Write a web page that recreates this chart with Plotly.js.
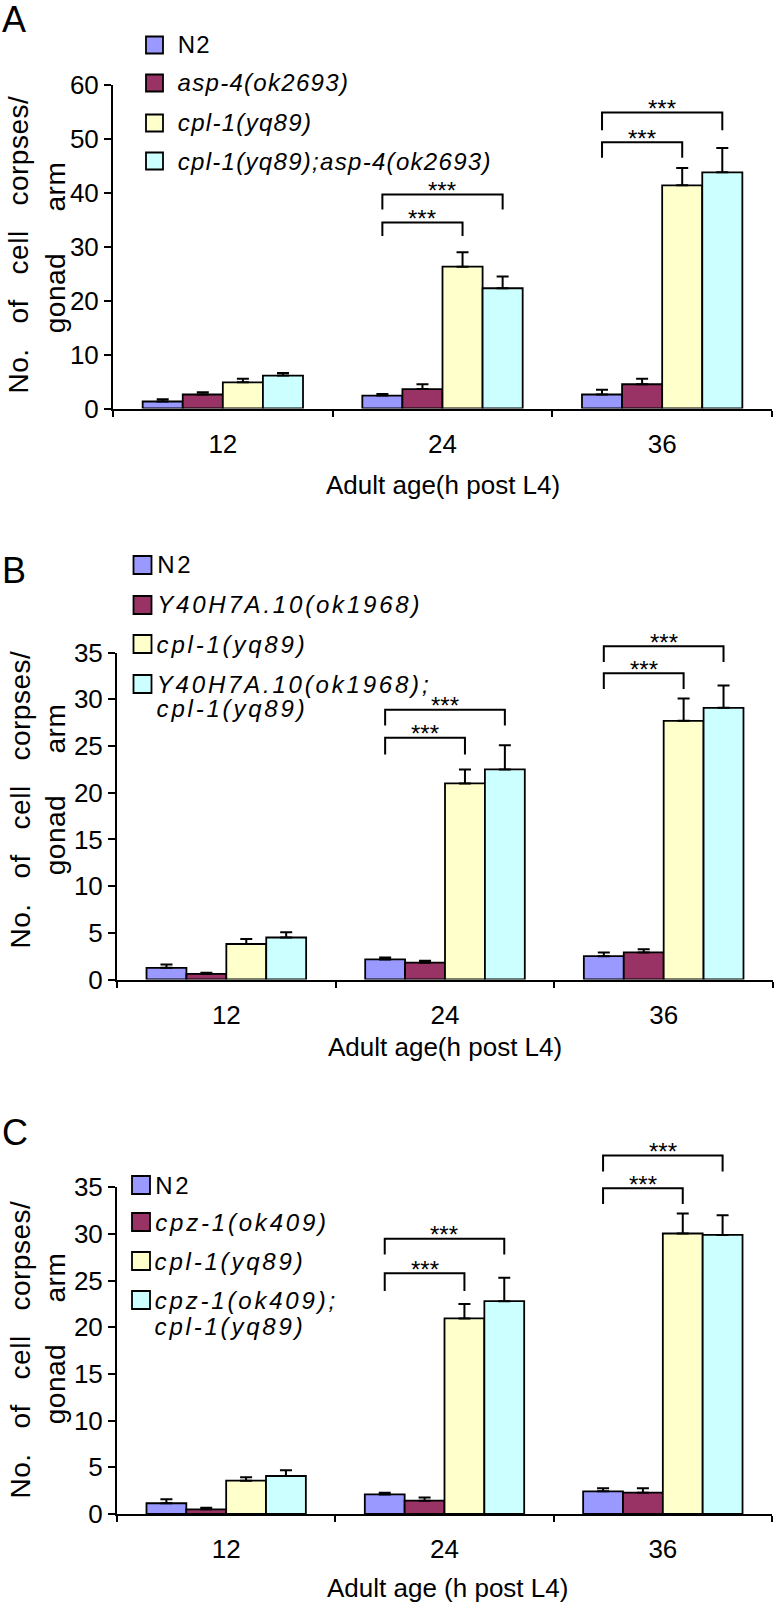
<!DOCTYPE html>
<html><head><meta charset="utf-8">
<script src="https://cdn.plot.ly/plotly-3.0.1.min.js"></script>
<style>html,body{margin:0;padding:0;background:#fff}</style>
</head><body>
<div id="chart" style="width:775px;height:1604px"></div>
<script>
// ---------------- DATA ----------------
const categories = ['12', '24', '36'];
const seriesColors = ['#9999FF', '#993366', '#FFFFCC', '#CCFFFF'];

// Panel A
const labelsA = [['N2'], ['asp-4(ok2693)'], ['cpl-1(yq89)'], ['cpl-1(yq89);asp-4(ok2693)']];
const a_N2 = [1.3, 2.4, 2.6];
const a_N2_err = [0.4, 0.3, 0.9];
const a_asp4 = [2.6, 3.6, 4.5];
const a_asp4_err = [0.4, 0.9, 1.0];
const a_cpl1 = [4.85, 26.3, 41.4];
const a_cpl1_err = [0.65, 2.7, 3.2];
const a_double = [6.1, 22.3, 43.8];
const a_double_err = [0.5, 2.2, 4.5];
// significance brackets: [category index, compared series, bracket level, leg end]
const sigA = [[1, 3, 39.7, 36.9], [1, 2, 34.5, 32.0], [2, 3, 54.9, 51.6], [2, 2, 49.4, 46.5]];

// Panel B
const labelsB = [['N2'], ['Y40H7A.10(ok1968)'], ['cpl-1(yq89)'], ['Y40H7A.10(ok1968);', 'cpl-1(yq89)']];
const b_N2 = [1.25, 2.15, 2.5];
const b_N2_err = [0.35, 0.2, 0.4];
const b_Y40 = [0.6, 1.8, 2.9];
const b_Y40_err = [0.13, 0.2, 0.35];
const b_cpl1 = [3.8, 21.0, 27.7];
const b_cpl1_err = [0.55, 1.5, 2.4];
const b_double = [4.5, 22.5, 29.1];
const b_double_err = [0.55, 2.6, 2.4];
const sigB = [[1, 3, 28.9, 27.2], [1, 2, 25.9, 24.1], [2, 3, 35.7, 34.0], [2, 2, 32.8, 31.1]];

// Panel C
const labelsC = [['N2'], ['cpz-1(ok409)'], ['cpl-1(yq89)'], ['cpz-1(ok409);', 'cpl-1(yq89)']];
const c_N2 = [1.15, 2.1, 2.43];
const c_N2_err = [0.42, 0.18, 0.32];
const c_cpz1 = [0.5, 1.43, 2.28];
const c_cpz1_err = [0.17, 0.35, 0.47];
const c_cpl1 = [3.57, 20.95, 30.05];
const c_cpl1_err = [0.36, 1.55, 2.15];
const c_double = [4.07, 22.8, 29.9];
const c_double_err = [0.63, 2.5, 2.1];
const sigC = [[1, 3, 29.5, 27.8], [1, 2, 25.8, 23.9], [2, 3, 38.4, 36.7], [2, 2, 34.9, 33.2]];

const NB = '\u00A0';
const yTitle1 = ['No.', 'of', 'cell', 'corpses/'].join(NB.repeat(3));
const yTitle2 = ['gonad', 'arm'].join(NB.repeat(5));

// ---------------- LAYOUT HELPERS ----------------
const W = 775, H = 1604;
const px = v => v / W;
const py = v => 1 - v / H;
const FONT = 'Liberation Sans, Arial, Helvetica, sans-serif';

const panels = [
  { values: [a_N2, a_asp4, a_cpl1, a_double], errs: [a_N2_err, a_asp4_err, a_cpl1_err, a_double_err],
    labels: labelsA, sig: sigA, ymax: 60, dtick: 10, xPix: [113, 772], yPix: [408.5, 85],
    legend: { sx: 146, size: 17, tx: 177, ys: [45, 83, 123, 161], line2y: null, ls: 1.3 },
    letter: { t: 'A', x: 14, y: 19 }, xtitle: { t: 'Adult age(h post L4)', x: 443, y: 485 },
    yt: { x1: 19, y1: 245, x2: 55, y2: 248 } },
  { values: [b_N2, b_Y40, b_cpl1, b_double], errs: [b_N2_err, b_Y40_err, b_cpl1_err, b_double_err],
    labels: labelsB, sig: sigB, ymax: 35, dtick: 5, xPix: [117, 773], yPix: [979.5, 652.7],
    legend: { sx: 133.5, size: 18, tx: 156, ys: [565, 605, 644, 684], line2y: 709, ls: 2.8 },
    letter: { t: 'B', x: 14, y: 570 }, xtitle: { t: 'Adult age(h post L4)', x: 445, y: 1047 },
    yt: { x1: 20, y1: 800, x2: 55, y2: 790 } },
  { values: [c_N2, c_cpz1, c_cpl1, c_double], errs: [c_N2_err, c_cpz1_err, c_cpl1_err, c_double_err],
    labels: labelsC, sig: sigC, ymax: 35, dtick: 5, xPix: [117, 772], yPix: [1514, 1187.3],
    legend: { sx: 132, size: 18, tx: 154, ys: [1185, 1222, 1261, 1300], line2y: 1326, ls: 2.8 },
    letter: { t: 'C', x: 15, y: 1132 }, xtitle: { t: 'Adult age (h post L4)', x: 447, y: 1588 },
    yt: { x1: 20, y1: 1350, x2: 55, y2: 1339 } }
];

const BARGAP = 0.27, NSER = 4;
const bw = (1 - BARGAP) / NSER;
const offset = k => (k - (NSER - 1) / 2) * bw;

const data = [], shapes = [], annotations = [], lsMap = {};
const layout = {
  width: W, height: H, autosize: false,
  margin: { l: 0, r: 0, t: 0, b: 0, pad: 0 },
  paper_bgcolor: '#fff', plot_bgcolor: 'rgba(0,0,0,0)',
  barmode: 'group', bargap: BARGAP, bargroupgap: 0,
  showlegend: false, font: { family: FONT, color: '#000' }
};

function ann(o) { annotations.push(Object.assign({ xref: 'paper', yref: 'paper', showarrow: false, borderpad: 0 }, o)); return annotations.length - 1; }

panels.forEach((p, pi) => {
  const suf = pi === 0 ? '' : String(pi + 1);
  const xa = 'x' + suf, ya = 'y' + suf;
  p.values.forEach((vals, k) => {
    data.push({
      type: 'bar', x: categories, y: vals, xaxis: xa, yaxis: ya,
      name: p.labels[k].join(' '),
      marker: { color: seriesColors[k], line: { color: '#000', width: 1.8 } },
      error_y: { type: 'data', array: p.errs[k], arrayminus: vals.map(() => 0), symmetric: false,
                 color: '#000', thickness: 2, width: 6 },
      hoverinfo: 'skip', cliponaxis: false
    });
  });
  layout['xaxis' + suf] = {
    domain: [px(p.xPix[0]), px(p.xPix[1])], anchor: ya, type: 'category', range: [-0.5, 2.5],
    tickson: 'boundaries', ticks: 'outside', ticklen: 6, tickwidth: 2, tickcolor: '#000',
    showline: true, linecolor: '#000', linewidth: 2, showgrid: false, zeroline: false,
    tickfont: { family: FONT, size: 26, color: '#000' }, ticklabelstandoff: 11, fixedrange: true
  };
  layout['yaxis' + suf] = {
    domain: [py(p.yPix[0]), py(p.yPix[1])], anchor: xa, range: [0, p.ymax], tick0: 0, dtick: p.dtick,
    ticks: 'outside', ticklen: 7, tickwidth: 2, tickcolor: '#000',
    showline: true, linecolor: '#000', linewidth: 2, showgrid: false, zeroline: false,
    tickfont: { family: FONT, size: 26, color: '#000' }, fixedrange: true
  };

  const xPixOf = (cat, k) => p.xPix[0] + (cat + offset(k) + 0.5) / 3 * (p.xPix[1] - p.xPix[0]);
  const yPixOf = v => p.yPix[0] - v / p.ymax * (p.yPix[0] - p.yPix[1]);

  // significance brackets
  p.sig.forEach(([cat, k, lvl, leg]) => {
    const x1 = px(xPixOf(cat, 0)), x2 = px(xPixOf(cat, k));
    const yl = py(yPixOf(lvl)), yg = py(yPixOf(leg));
    shapes.push({ type: 'path', xref: 'paper', yref: 'paper',
      path: `M${x1},${yg} L${x1},${yl} L${x2},${yl} L${x2},${yg}`,
      line: { color: '#000', width: 2 } });
    ann({ x: (x1 + x2) / 2, y: py(yPixOf(lvl) - 4), xanchor: 'center', yanchor: 'middle',
          text: '***', font: { family: FONT, size: 24, color: '#000' } });
  });

  // legend
  const L = p.legend;
  p.labels.forEach((lines, k) => {
    const cy = L.ys[k];
    shapes.push({ type: 'rect', xref: 'paper', yref: 'paper',
      x0: px(L.sx), x1: px(L.sx + L.size), y0: py(cy + L.size / 2), y1: py(cy - L.size / 2),
      fillcolor: seriesColors[k], line: { color: '#000', width: 1.8 } });
    lines.forEach((t, li) => {
      const idx = ann({ x: px(L.tx), y: py(li === 0 ? cy : L.line2y), xanchor: 'left', yanchor: 'middle',
        xshift: t.length * L.ls / 2,
        text: t, font: { family: FONT, size: 24, color: '#000', style: k === 0 ? 'normal' : 'italic' } });
      lsMap[idx] = L.ls;
    });
  });

  // panel letter
  ann({ x: px(p.letter.x), y: py(p.letter.y), xanchor: 'center', yanchor: 'middle',
        text: p.letter.t, font: { family: FONT, size: 36, color: '#000' } });
  // x title
  ann({ x: px(p.xtitle.x), y: py(p.xtitle.y), xanchor: 'center', yanchor: 'middle',
        text: p.xtitle.t, font: { family: FONT, size: 26, color: '#000' } });
  // y title (two lines)
  let i1 = ann({ x: px(p.yt.x1), y: py(p.yt.y1), xanchor: 'center', yanchor: 'middle', textangle: -90,
        text: yTitle1, font: { family: FONT, size: 28, color: '#000' } });
  let i2 = ann({ x: px(p.yt.x2), y: py(p.yt.y2), xanchor: 'center', yanchor: 'middle', textangle: -90,
        text: yTitle2, font: { family: FONT, size: 28, color: '#000' } });
  lsMap[i1] = 0.5; lsMap[i2] = 0.5;
});

layout.shapes = shapes;
layout.annotations = annotations;

Plotly.newPlot('chart', data, layout, { displayModeBar: false, staticPlot: true }).then(gd => {
  document.querySelectorAll('g.annotation').forEach(g => {
    const idx = +g.getAttribute('data-index');
    if (lsMap[idx]) {
      const t = g.querySelector('text');
      if (t) t.style.letterSpacing = lsMap[idx] + 'px';
    }
  });
});
</script>
</body></html>
